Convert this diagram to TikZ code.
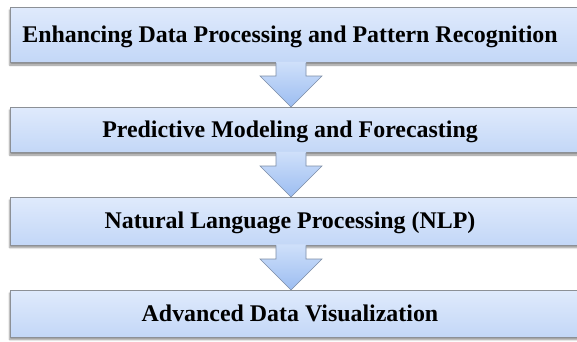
\documentclass[tikz,border=0pt]{standalone}
\usepackage{fontspec}
\setmainfont{Liberation Serif}
\usetikzlibrary{calc,shadows.blur}
\definecolor{boxtop}{HTML}{DFEAFC}
\definecolor{boxbot}{HTML}{C3D7F7}
\definecolor{boxborder}{HTML}{8C9096}
\definecolor{arrtop}{HTML}{CFE0FA}
\definecolor{arrbot}{HTML}{9CBDF1}
\definecolor{arrborder}{HTML}{7D8DA6}
\begin{document}
\begin{tikzpicture}[x=1pt,y=1pt,
  boxstyle/.style={draw=boxborder, line width=0.8pt, top color=boxtop, bottom color=boxbot,
    minimum width=620pt, anchor=north west, inner sep=0pt,
    blur shadow={shadow xshift=-0.6pt, shadow yshift=-2.6pt, shadow blur steps=6, shadow opacity=45}},
  txt/.style={font=\fontsize{23.9}{28}\selectfont\bfseries, text=black, inner sep=0pt, anchor=base},
  arrowfill/.style={top color=arrtop, bottom color=arrbot},
  arrowline/.style={draw=arrborder, line width=0.6pt, line join=miter}
]
\useasboundingbox (0,0) rectangle (577,-341);
% boxes
\node[boxstyle, minimum height=55pt] (b1) at (10,-7) {};
\node[boxstyle, minimum height=45pt] (b2) at (10,-107) {};
\node[boxstyle, minimum height=47.5pt] (b3) at (10,-197) {};
\node[boxstyle, minimum height=46.5pt] (b4) at (10,-290) {};
% texts
\node[txt] (t1) at (290,-42.5) {Enhancing Data Processing and Pattern Recognition};
\node[txt] (t2) at (290,-137.4) {Predictive Modeling and Forecasting};
\node[txt] (t3) at (290,-228.8) {Natural Language Processing (NLP)};
\node[txt] (t4) at (290,-321.4) {Advanced Data Visualization};
% block arrows
\foreach \a/\b in {b1/b2,b2/b3,b3/b4}{
  \path let \p1=($(t1 |- \a.south)+(1,0)$), \p2=($(t1 |- \b.north)+(1,0)$) in
    [arrowfill] (\x1-15,\y1+1) -- (\x1-15,\y2+31) -- (\x1-31,\y2+31) -- (\x1,\y2)
      -- (\x1+31,\y2+31) -- (\x1+15,\y2+31) -- (\x1+15,\y1+1) -- cycle;
  \draw[arrowline] let \p1=($(t1 |- \a.south)+(1,0)$), \p2=($(t1 |- \b.north)+(1,0)$) in
    (\x1-15,\y1) -- (\x1-15,\y2+31) -- (\x1-31,\y2+31) -- (\x1,\y2)
      -- (\x1+31,\y2+31) -- (\x1+15,\y2+31) -- (\x1+15,\y1);
}
\end{tikzpicture}
\end{document}
